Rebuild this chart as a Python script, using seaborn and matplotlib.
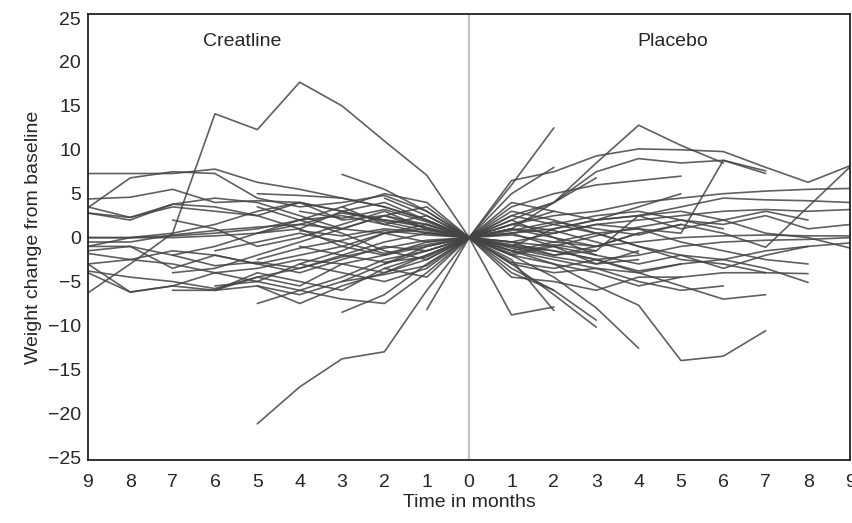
import matplotlib
matplotlib.use("Agg")
import matplotlib.pyplot as plt
import seaborn as sns
import pandas as pd

# -------------------------------------------------
# Data: weight change from baseline, one list per subject
# (values at months 0, 1, 2, ... until dropout)
# -------------------------------------------------
creatine = [
    [0, 7.1, 11.0, 15.0, 17.7, 12.3, 14.1, 0.5, -3.0, -6.3],
    [0, -6.0, -13.0, -13.8, -17.0, -21.2],
    [0, 2.0, 3.5, 4.5, 5.5, 6.3, 7.8, 7.3, 7.3, 7.3],
    [0, 3.0, 4.8, 4.0, 3.5, 4.5, 7.3, 7.5, 6.8, 3.4],
    [0, 1.5, 2.0, 3.0, 4.0, 4.2, 4.0, 5.5, 4.6, 4.4],
    [0, 1.0, 2.5, 2.0, 4.0, 2.5, 3.0, 3.5, 2.3, 3.5],
    [0, 0.5, 1.5, 2.5, 2.0, 1.0, 0.5, 0.2, 0.0, 0.0],
    [0, -0.5, 0.5, 1.0, 1.5, 1.2, 0.8, 0.3, -0.5, -0.5],
    [0, -1.0, -2.0, -3.0, -2.5, -3.5, -4.0, -3.0, -2.5, -1.8],
    [0, -2.0, -4.0, -3.0, -5.5, -4.5, -6.0, -5.5, -6.2, -4.0],
    [0, -1.5, -1.0, -2.5, -4.0, -3.0, -2.0, -3.5, -1.0, -1.0],
    [0, 3.0, 5.5, 7.2],
    [0, 2.0, 3.5, 4.5, 4.8, 5.0],
    [0, -2.5, -4.0, -5.5, -7.5, -5.5],
    [0, -3.0, -6.5, -8.5],
    [0, -4.0, -7.5, -7.0, -6.0, -7.5],
    [0, -8.2],
    [0, -1.0, -3.0, -5.0, -6.5, -5.5, -6.0, -6.0],
    [0, 1.5, 0.5, -1.0, -2.0, -3.0, -2.0, -1.5, -2.5, -3.0],
    [0, 2.5, 1.5, 3.5, 2.0, 0.5, -1.0, -2.0, -1.0, -1.5],
    [0, 1.0, 3.0, 1.5, 0.0, -1.0, 1.0, 2.0],
    [0, -0.5, -2.0, -1.0, 1.0, 2.5, 3.5, 3.8, 2.3, 2.8],
    [0, 0.5, -0.5, -2.0, -3.5, -4.5, -5.8, -5.0, -4.5, -3.8],
    [0, 2.0, 4.0, 3.0, 1.0, 0.5, 0.2, 0.0, 0.0, 0.0],
    [0, -2.5, -1.5, 0.5, 2.0, 3.5],
    [0, 1.0, 0.5, -1.5, -3.0, -5.0, -5.5],
    [0, -3.5, -5.0, -4.0, -3.0],
    [0, 3.5, 2.5, 1.0, 2.5, 4.0, 4.5, 3.8, 2.0, 2.8],
    [0, -1.5, -2.5, -4.5, -6.0, -5.0, -4.0, -5.5, -6.2, -3.0],
    [0, 0.8, 1.8, 3.0, 4.0, 3.0, 1.5, 0.5, 0.0, -1.0],
    [0, -2.0, -3.5, -6.0, -5.0, -4.0, -6.0],
    [0, 1.5, 2.5, 1.0, -0.5, -2.0, -3.5, -4.0],
    [0, 2.5, 4.5],
    [0, -1.5, -3.0],
    [0, 4.0, 5.0, 3.5],
    [0, -4.5, -3.5],
    [0, 1.2, 2.0, 2.8, 1.5, 0.5],
    [0, -0.8, -1.8, -0.5, 0.5, -0.5, -1.5],
    [0, 0.3, 0.8, -0.3, -1.2, -2.5],
    [0, -2.2, -2.8, -2.0, -1.0],
    [0, 1.8, 3.2, 2.2, 3.0],
    [0, -0.3, -1.2, -2.2, -3.5, -2.8, -3.2, -2.0],
    [0, 0.6, 1.0, 0.2, 0.8],
    [0, -3.2, -4.2, -5.0],
]

placebo = [
    [0, -1.5, -3.0, -5.5, -7.7, -14.0, -13.5, -10.6],
    [0, -2.0, -4.5, -8.0, -12.6],
    [0, -8.8, -7.9],
    [0, -3.0, -6.5, -10.2],
    [0, -2.5, -8.3],
    [0, -4.0, -6.0, -9.4],
    [0, 6.0, 12.5],
    [0, 1.0, 4.0, 8.5, 12.8, 10.5, 8.5],
    [0, 6.5, 7.5, 9.3, 10.1, 10.0, 9.8, 8.0, 6.3, 8.2],
    [0, 2.0, 4.0, 7.5, 9.0, 8.5, 8.8, 7.3],
    [0, 3.5, 5.0, 6.0, 6.5, 7.0],
    [0, 1.5, 2.5, 3.0, 4.0, 4.5, 5.0, 5.3, 5.5, 5.6],
    [0, -1.0, -2.0, -1.0, 0.5, 1.5, 0.5, -1.1, 3.5, 8.1],
    [0, 0.5, 1.0, 2.0, 2.5, 3.5, 4.5, 4.3, 4.2, 4.0],
    [0, -0.5, 0.5, 1.5, 2.0, 2.5, 3.0, 3.2, 3.0, 3.2],
    [0, 1.0, 0.0, -1.0, -0.5, 0.0, 0.2, 0.3, 0.2, 0.2],
    [0, -1.0, -1.5, -2.5, -2.0, -1.0, -0.5, -0.3, -0.2, 0.0],
    [0, 0.5, -1.0, -2.0, -3.0, -2.0, -2.5, -1.5, -1.0, -0.6],
    [0, -2.0, -3.0, -4.0, -5.5, -4.5, -4.0, -4.0, -4.1],
    [0, -1.5, -2.5, -3.5, -4.0, -3.0, -2.5, -3.5, -5.1],
    [0, 1.0, 0.5, 1.5, 1.0, 0.5, 8.8, 7.6],
    [0, 2.5, 1.5, 2.5, 3.0, 2.0, 1.5, 2.5, 1.0, 1.5],
    [0, -0.5, -2.0, -1.5, 2.5, 3.0, 2.0, 0.5, 0.0, -1.2],
    [0, 3.0, 2.0, 0.5, -1.0, -2.5, -3.0, -4.0],
    [0, -3.0, -4.0, -3.5, -5.0, -6.0, -5.5],
    [0, 5.0, 8.0],
    [0, 2.5, 4.0, 6.8],
    [0, -1.0, 1.0, 2.0, 3.5, 5.0],
    [0, 0.5, 1.5, 0.5, -1.0, -2.0, -3.5, -2.0, -1.0],
    [0, -1.5, -0.5, 0.5, 1.0, -0.5, -1.5, -2.5, -3.0],
    [0, 1.5, 3.0, 2.0, 2.5, 1.0, 2.0, 3.0, 2.0],
    [0, -2.0, -1.0, -3.0, -2.5],
    [0, -4.5, -5.0, -6.0, -4.5, -4.5],
    [0, 2.0, 0.0, -2.0],
    [0, -3.5, -6.0],
    [0, 4.0, 3.0],
    [0, -0.8, -1.5, -2.5, -4.0, -5.5, -7.0, -6.5],
    [0, -1.2, -2.2, -3.0, -1.5],
    [0, 0.8, 1.8, 1.0, 0.3, 1.5],
    [0, -0.5, -1.0, 0.2, 1.2, 2.0, 1.0],
    [0, 1.5, 0.8, -0.5, -1.8],
    [0, -2.8, -3.5, -2.5, -3.8, -3.0],
    [0, 0.3, -0.5, -1.0, 0.5],
    [0, -1.8, -0.8, -1.5],
]

tick_months = list(range(-9, 10))
tick_labels = [str(abs(m)) for m in tick_months]
y_ticks = list(range(-25, 26, 5))

# -------------------------------------------------
# Build long-format table: creatine plotted to the left of 0
# -------------------------------------------------
rows = []
for i, series in enumerate(creatine):
    for m, v in enumerate(series):
        rows.append({"subject": f"c{i}", "month": -m, "change": v})
for i, series in enumerate(placebo):
    for m, v in enumerate(series):
        rows.append({"subject": f"p{i}", "month": m, "change": v})
df = pd.DataFrame(rows)

sns.set_style("white")
plt.rcParams["font.family"] = ["Liberation Sans", "DejaVu Sans"]

fig = plt.figure(figsize=(8.53, 5.23), dpi=100)
ax = fig.add_axes([0.103, 0.120, 0.894, 0.853])

ax.axvline(0, color="#c4c4c4", lw=1.6, zorder=0)

sns.lineplot(
    data=df, x="month", y="change", units="subject", estimator=None,
    color="#444444", lw=1.2, alpha=0.85, ax=ax, legend=False,
)

ax.set_xlim(-9, 9)
ax.set_ylim(-25.35, 25.45)
ax.set_xticks(tick_months)
ax.set_xticklabels(tick_labels)
ax.set_yticks(y_ticks)
ax.set_yticklabels([str(v).replace("-", "\u2212") for v in y_ticks])

fs = 14
ax.tick_params(axis="x", length=5, width=1.2, color="#222222", labelsize=fs, pad=5)
ax.tick_params(axis="y", length=0, labelsize=fs, pad=5)
for s in ax.spines.values():
    s.set_color("#222222")
    s.set_linewidth(1.3)

ax.set_xlabel("Time in months", fontsize=fs, labelpad=2)
ax.set_ylabel("Weight change from baseline", fontsize=fs, labelpad=4)

ax.text(-5.35, 22.3, "Creatline", fontsize=fs, ha="center", va="center")
ax.text(4.8, 22.3, "Placebo", fontsize=fs, ha="center", va="center")

fig.savefig("out.png", dpi=100)
